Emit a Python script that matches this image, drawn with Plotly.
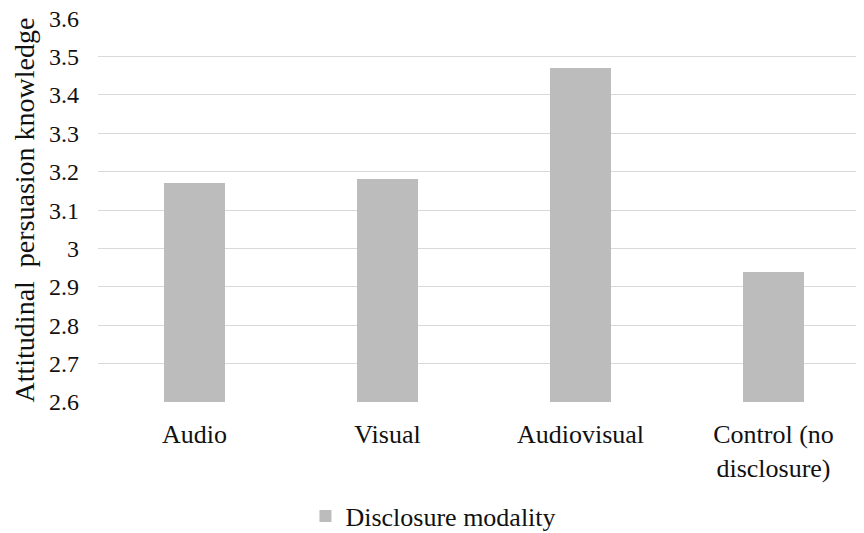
import plotly.graph_objects as go

categories = ["Audio", "Visual", "Audiovisual", "Control (no<br>disclosure)"]
values = [3.17, 3.18, 3.47, 2.94]
series_name = "Disclosure modality"
y_ticks = [2.6, 2.7, 2.8, 2.9, 3.0, 3.1, 3.2, 3.3, 3.4, 3.5, 3.6]
y_tick_text = ["2.6", "2.7", "2.8", "2.9", "3", "3.1", "3.2", "3.3", "3.4", "3.5", "3.6"]
y_title = "Attitudinal  persuasion knowledge"
y_base = 2.6

FONT = "Liberation Serif, serif"

fig = go.Figure()
fig.add_trace(go.Bar(
    x=list(range(len(categories))),
    y=[v - y_base for v in values],
    base=y_base,
    name=series_name,
    marker=dict(color="#bcbcbc", line=dict(width=0)),
    width=0.316,
    showlegend=True,
    hovertext=[str(v) for v in values],
))

fig.update_layout(
    template="none",
    width=856, height=525,
    margin=dict(l=90, r=0, t=10, b=131),
    paper_bgcolor="white", plot_bgcolor="white",
    font=dict(family=FONT, size=26, color="#111111"),
    showlegend=True,
    legend=dict(orientation="h", xref="container", yref="container",
                x=0.497, xanchor="center", y=0.032, yanchor="middle",
                font=dict(family=FONT, size=26)),
    bargap=0,
)
fig.update_xaxes(
    range=[-0.5, 3.469],
    tickmode="array", tickvals=list(range(len(categories))), ticktext=categories,
    showgrid=False, zeroline=False, showline=False, ticks="",
    tickfont=dict(family=FONT, size=26), ticklabelstandoff=14,
    ticklabeloverflow="allow",
)
fig.update_yaxes(
    range=[2.6, 3.6005],
    tickmode="array", tickvals=y_ticks, ticktext=y_tick_text,
    showgrid=True, gridcolor="#d9d9d9", gridwidth=1.4,
    zeroline=False, showline=False, ticks="",
    tickfont=dict(family=FONT, size=24), ticklabelstandoff=18,
    ticklabeloverflow="allow",
    title=dict(text=y_title, font=dict(family=FONT, size=28), standoff=6),
)

fig.write_html("out.html")
